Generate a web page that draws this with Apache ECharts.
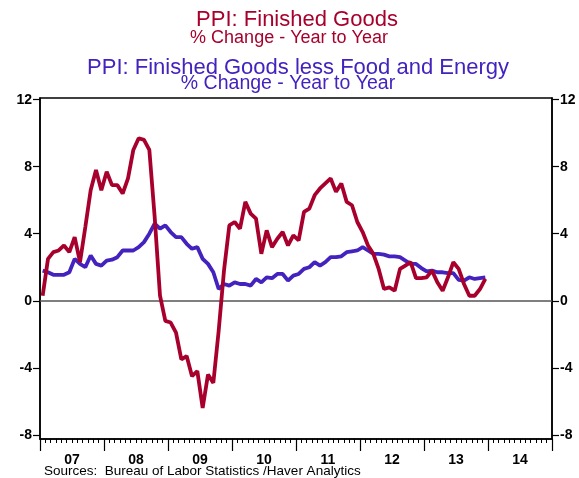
<!DOCTYPE html>
<html>
<head>
<meta charset="utf-8">
<script src="https://cdn.jsdelivr.net/npm/echarts@6/dist/echarts.min.js"></script>
<style>
html,body{margin:0;padding:0;background:#fff;}
#chart{width:579px;height:478px;}
</style>
</head>
<body>
<div id="chart"></div>
<script>
// ---- data ----
const yearLabels = ['07','08','09','10','11','12','13','14'];
const yTicks = [-8, -4, 0, 4, 8, 12];

// PPI: Finished Goods, % change y/y, Jan 2007 - Dec 2013
const ppiFinished = [
  0.3, 2.5, 2.9, 3.0, 3.3, 2.9, 3.8, 2.3, 4.4, 6.6, 7.8, 6.6,
  7.7, 6.9, 6.9, 6.4, 7.3, 9.0, 9.7, 9.6, 9.0, 5.0, 0.3, -1.2,
  -1.3, -1.9, -3.5, -3.3, -4.5, -4.2, -6.4, -4.4, -4.9, -1.8, 1.8, 4.5,
  4.7, 4.3, 5.9, 5.2, 4.9, 2.8, 4.2, 3.2, 3.7, 4.1, 3.3, 3.9,
  3.6, 5.3, 5.5, 6.3, 6.7, 7.0, 7.3, 6.5, 7.0, 5.9, 5.7, 4.7,
  4.1, 3.3, 2.8, 1.9, 0.7, 0.8, 0.6, 1.9, 2.1, 2.3, 1.35, 1.35,
  1.4, 1.8, 1.1, 0.6, 1.4, 2.3, 1.9, 1.0, 0.3, 0.3, 0.7, 1.3
];

// PPI: Finished Goods less Food and Energy, % change y/y, Jan 2007 - Dec 2013
const ppiCore = [
  1.8, 1.7, 1.55, 1.55, 1.55, 1.7, 2.5, 2.2, 2.0, 2.7, 2.2, 2.1,
  2.4, 2.45, 2.6, 3.0, 3.0, 3.0, 3.2, 3.5, 4.0, 4.6, 4.3, 4.5,
  4.1, 3.8, 3.8, 3.4, 3.1, 3.2, 2.5, 2.2, 1.7, 0.7, 1.0, 0.9,
  1.1, 1.0, 1.0, 0.9, 1.3, 1.1, 1.4, 1.35, 1.6, 1.6, 1.2, 1.5,
  1.6, 1.9, 2.0, 2.3, 2.1, 2.3, 2.6, 2.6, 2.65, 2.9, 2.95, 3.0,
  3.2, 3.0, 2.8, 2.8, 2.75, 2.65, 2.65, 2.6, 2.4, 2.2, 2.2, 1.95,
  1.75, 1.8, 1.7, 1.7, 1.65, 1.65, 1.25, 1.2, 1.4, 1.3, 1.35, 1.4
];

// monthly categories Jan 2007 - Dec 2014
const monthCats = [];
yearLabels.forEach(y => { for (let m = 1; m <= 12; m++) monthCats.push(y + '-' + m); });

const RED = '#A8002C';
const BLUE = '#4422BE';
const FONT = '"Liberation Sans", Arial, sans-serif';

const chart = echarts.init(document.getElementById('chart'), null, {renderer: 'canvas'});

const yAxisCommon = {
  type: 'value',
  min: -8.25,
  max: 12.1,
  splitLine: {show: false},
  axisLine: {show: true, onZero: false, lineStyle: {color: '#000', width: 1.5}},
  axisTick: {show: true, inside: false, length: 7, customValues: yTicks, lineStyle: {color: '#000', width: 1.2}},
  axisLabel: {show: true, customValues: yTicks, margin: 8, color: '#000', fontSize: 14, fontWeight: 'bold', fontFamily: FONT}
};

chart.setOption({
  animation: false,
  backgroundColor: '#fff',
  grid: {left: 40, right: 27, top: 98, bottom: 39, show: true, borderColor: '#000', borderWidth: 1.5, backgroundColor: 'transparent'},
  xAxis: [
    {
      type: 'category', data: monthCats, boundaryGap: true, position: 'bottom',
      axisLine: {show: true, onZero: false, lineStyle: {color: '#000', width: 1.5}},
      axisTick: {show: true, interval: 0, length: 4, lineStyle: {color: '#000', width: 1}},
      axisLabel: {show: false},
      splitLine: {show: false}
    },
    {
      type: 'category', data: yearLabels, boundaryGap: true, position: 'bottom',
      axisLine: {show: false, onZero: false},
      axisTick: {show: true, interval: 0, length: 12, lineStyle: {color: '#000', width: 1.2}},
      axisLabel: {show: true, interval: 0, margin: 14, color: '#000', fontSize: 14, fontWeight: 'bold', fontFamily: FONT},
      splitLine: {show: false}
    }
  ],
  yAxis: [
    Object.assign({position: 'left'}, yAxisCommon),
    Object.assign({position: 'right'}, yAxisCommon)
  ],
  series: [
    {
      type: 'line', xAxisIndex: 0, yAxisIndex: 0, data: ppiCore,
      symbol: 'none', lineStyle: {color: BLUE, width: 3.8}, z: 3,
      markLine: {
        silent: true, symbol: 'none', label: {show: false},
        lineStyle: {color: '#555', width: 1.5, type: 'solid'},
        data: [{yAxis: 0}], z: 1
      }
    },
    {
      type: 'line', xAxisIndex: 0, yAxisIndex: 0, data: ppiFinished,
      symbol: 'none', lineStyle: {color: RED, width: 3.8}, z: 4
    }
  ],
  graphic: [
    {type: 'text', z: 10, style: {text: 'PPI: Finished Goods', x: 297, y: 20, fill: RED, font: '22px ' + FONT, align: 'center', verticalAlign: 'middle', textAlign: 'center', textVerticalAlign: 'middle'}},
    {type: 'text', z: 10, style: {text: '% Change - Year to Year', x: 289, y: 38, fill: RED, font: '18px ' + FONT, align: 'center', verticalAlign: 'middle', textAlign: 'center', textVerticalAlign: 'middle'}},
    {type: 'text', z: 10, style: {text: 'PPI: Finished Goods less Food and Energy', x: 298, y: 67.5, fill: BLUE, font: '22px ' + FONT, align: 'center', verticalAlign: 'middle', textAlign: 'center', textVerticalAlign: 'middle'}},
    {type: 'text', z: 10, style: {text: '% Change - Year to Year', x: 288, y: 84, fill: BLUE, font: '19.5px ' + FONT, align: 'center', verticalAlign: 'middle', textAlign: 'center', textVerticalAlign: 'middle'}},
    {type: 'text', z: 10, style: {text: 'Sources:  Bureau of Labor Statistics /Haver Analytics', x: 44, y: 471, fill: '#000', font: '13.5px ' + FONT, align: 'left', verticalAlign: 'middle', textAlign: 'left', textVerticalAlign: 'middle'}}
  ]
});
</script>
</body>
</html>
